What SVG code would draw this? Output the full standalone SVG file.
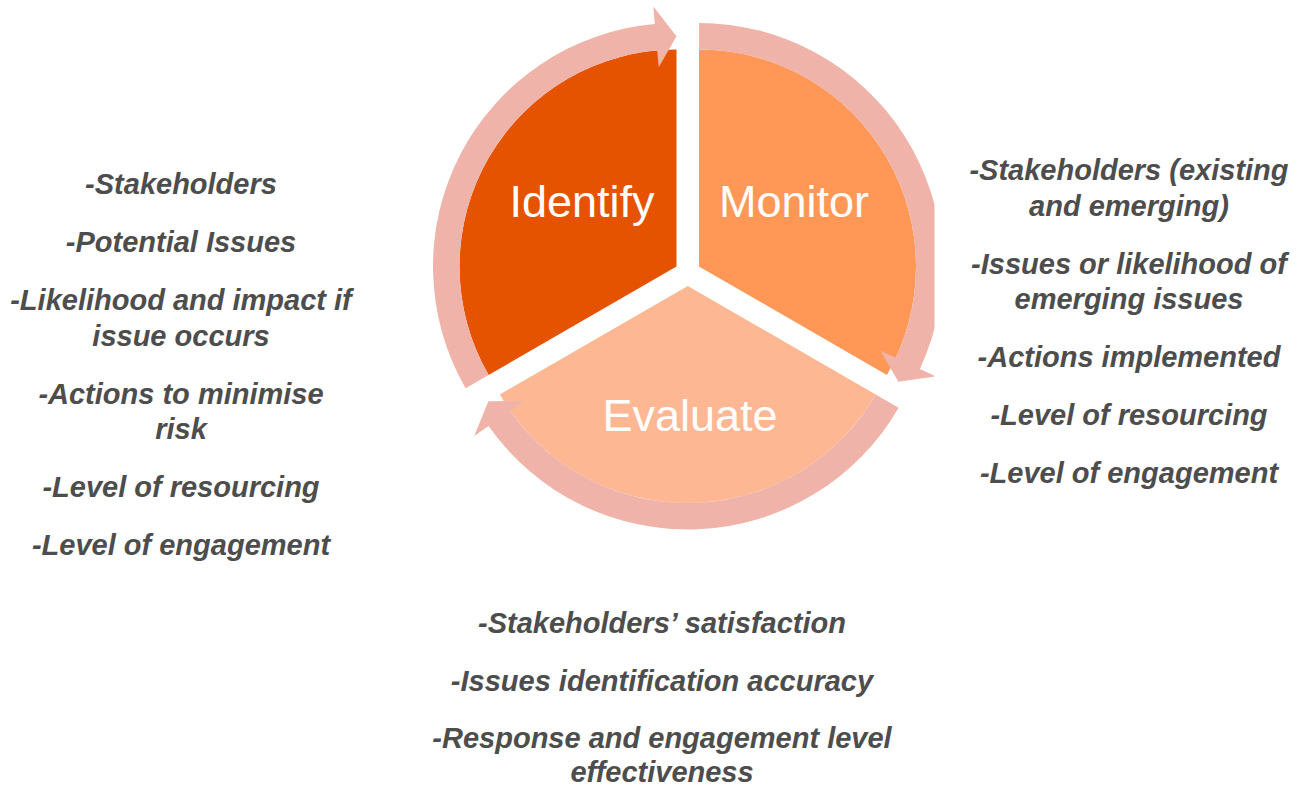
<svg xmlns="http://www.w3.org/2000/svg" width="1302" height="787" viewBox="0 0 1302 787">
<style>
.lbl{font-family:"Liberation Sans",Arial,sans-serif;font-size:45px;fill:#ffffff;text-anchor:middle}
.txt{font-family:"Liberation Sans",Arial,sans-serif;font-size:29px;font-weight:bold;font-style:italic;fill:#4d4d4d;text-anchor:middle}
.arrow{fill:#efb3a9}
</style>
<defs>
<path id="wedge" d="M 0 0 L -187.927 108.5 A 217 217 0 0 1 0 -217 Z"/>
<path id="arc" d="M -210.877 121.75 A 243.5 243.5 0 0 1 -21.646 -242.536 L -23.201 -259.967 L 0 -230.25 L -17.779 -199.208 L -19.290 -216.141 A 217 217 0 0 0 -187.927 108.5 Z"/>
<clipPath id="pageclip" clipPathUnits="userSpaceOnUse"><rect x="0" y="0" width="934.5" height="787"/></clipPath>
</defs>
<rect width="1302" height="787" fill="#ffffff"/>
<g id="identify">
<use href="#wedge" transform="translate(676.5,266.5)" fill="#e55300"/>
</g>
<g id="monitor">
<use href="#wedge" transform="translate(699,266.5) rotate(120)" fill="#ff9757"/>
</g>
<g id="evaluate">
<use href="#wedge" transform="translate(687.75,286) rotate(240)" fill="#fdb893"/>
</g>
<g id="connectors">
<use class="arrow" href="#arc" transform="translate(676.5,266.5)"/>
<g clip-path="url(#pageclip)"><use class="arrow" href="#arc" transform="translate(699,266.5) rotate(120)"/></g>
<use class="arrow" href="#arc" transform="translate(687.75,286) rotate(240)"/>
</g>
<g id="labels">
<text class="lbl" x="582" y="217">Identify</text>
<text class="lbl" x="794" y="217">Monitor</text>
<text class="lbl" x="690" y="431">Evaluate</text>
</g>
<g id="identify-notes">
<text class="txt" x="181" y="194">-Stakeholders</text>
<text class="txt" x="181" y="252">-Potential Issues</text>
<text class="txt" x="181" y="310">-Likelihood and impact if</text>
<text class="txt" x="181" y="345.5">issue occurs</text>
<text class="txt" x="181" y="403.5">-Actions to minimise</text>
<text class="txt" x="181" y="439">risk</text>
<text class="txt" x="181" y="497">-Level of resourcing</text>
<text class="txt" x="181" y="555">-Level of engagement</text>
</g>
<g id="monitor-notes">
<text class="txt" x="1129" y="180">-Stakeholders (existing</text>
<text class="txt" x="1129" y="215.5">and emerging)</text>
<text class="txt" x="1129" y="273.5">-Issues or likelihood of</text>
<text class="txt" x="1129" y="309">emerging issues</text>
<text class="txt" x="1129" y="367">-Actions implemented</text>
<text class="txt" x="1129" y="425">-Level of resourcing</text>
<text class="txt" x="1129" y="483">-Level of engagement</text>
</g>
<g id="evaluate-notes">
<text class="txt" x="662" y="633">-Stakeholders’ satisfaction</text>
<text class="txt" x="662" y="691">-Issues identification accuracy</text>
<text class="txt" x="662" y="748">-Response and engagement level</text>
<text class="txt" x="662" y="782">effectiveness</text>
</g>
</svg>
